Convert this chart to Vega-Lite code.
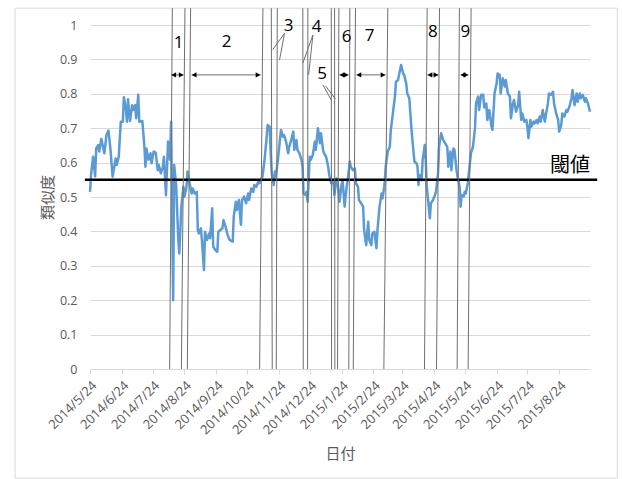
{
  "$schema": "https://vega.github.io/schema/vega-lite/v6.json",
  "width": 500,
  "height": 344,
  "autosize": "none",
  "padding": {"left": 90, "top": 25, "right": 32, "bottom": 110},
  "background": "white",
  "config": {"view": {"stroke": null}},
  "datasets": {
    "series": [
      {"date": "2014-05-24", "sim": 0.515}, {"date": "2014-05-25", "sim": 0.564}, {"date": "2014-05-27", "sim": 0.617},
      {"date": "2014-05-29", "sim": 0.56}, {"date": "2014-05-30", "sim": 0.641}, {"date": "2014-06-01", "sim": 0.651},
      {"date": "2014-06-02", "sim": 0.632}, {"date": "2014-06-04", "sim": 0.669}, {"date": "2014-06-06", "sim": 0.641},
      {"date": "2014-06-07", "sim": 0.627}, {"date": "2014-06-09", "sim": 0.68}, {"date": "2014-06-11", "sim": 0.693},
      {"date": "2014-06-13", "sim": 0.637}, {"date": "2014-06-15", "sim": 0.559}, {"date": "2014-06-18", "sim": 0.612},
      {"date": "2014-06-19", "sim": 0.593}, {"date": "2014-06-21", "sim": 0.617}, {"date": "2014-06-23", "sim": 0.719},
      {"date": "2014-06-25", "sim": 0.719}, {"date": "2014-06-26", "sim": 0.79}, {"date": "2014-06-28", "sim": 0.753},
      {"date": "2014-06-29", "sim": 0.719}, {"date": "2014-06-30", "sim": 0.784}, {"date": "2014-07-02", "sim": 0.721},
      {"date": "2014-07-04", "sim": 0.767}, {"date": "2014-07-05", "sim": 0.753}, {"date": "2014-07-07", "sim": 0.767},
      {"date": "2014-07-08", "sim": 0.729}, {"date": "2014-07-10", "sim": 0.797}, {"date": "2014-07-11", "sim": 0.719},
      {"date": "2014-07-14", "sim": 0.721}, {"date": "2014-07-16", "sim": 0.646}, {"date": "2014-07-17", "sim": 0.588},
      {"date": "2014-07-18", "sim": 0.641}, {"date": "2014-07-20", "sim": 0.608}, {"date": "2014-07-22", "sim": 0.627},
      {"date": "2014-07-23", "sim": 0.598}, {"date": "2014-07-25", "sim": 0.632}, {"date": "2014-07-27", "sim": 0.629},
      {"date": "2014-07-29", "sim": 0.578}, {"date": "2014-07-30", "sim": 0.593}, {"date": "2014-08-01", "sim": 0.569},
      {"date": "2014-08-03", "sim": 0.588}, {"date": "2014-08-04", "sim": 0.617}, {"date": "2014-08-06", "sim": 0.505},
      {"date": "2014-08-08", "sim": 0.661}, {"date": "2014-08-10", "sim": 0.608}, {"date": "2014-08-11", "sim": 0.719},
      {"date": "2014-08-12", "sim": 0.45}, {"date": "2014-08-13", "sim": 0.2}, {"date": "2014-08-14", "sim": 0.593},
      {"date": "2014-08-16", "sim": 0.53}, {"date": "2014-08-18", "sim": 0.375}, {"date": "2014-08-19", "sim": 0.336},
      {"date": "2014-08-21", "sim": 0.472}, {"date": "2014-08-23", "sim": 0.53}, {"date": "2014-08-24", "sim": 0.501},
      {"date": "2014-08-26", "sim": 0.53}, {"date": "2014-08-27", "sim": 0.574}, {"date": "2014-08-29", "sim": 0.54},
      {"date": "2014-08-31", "sim": 0.51}, {"date": "2014-09-01", "sim": 0.525}, {"date": "2014-09-03", "sim": 0.51},
      {"date": "2014-09-05", "sim": 0.515}, {"date": "2014-09-06", "sim": 0.404}, {"date": "2014-09-07", "sim": 0.394},
      {"date": "2014-09-09", "sim": 0.409}, {"date": "2014-09-10", "sim": 0.375}, {"date": "2014-09-12", "sim": 0.288},
      {"date": "2014-09-13", "sim": 0.399}, {"date": "2014-09-15", "sim": 0.375}, {"date": "2014-09-17", "sim": 0.394},
      {"date": "2014-09-18", "sim": 0.38}, {"date": "2014-09-20", "sim": 0.467}, {"date": "2014-09-21", "sim": 0.356},
      {"date": "2014-09-23", "sim": 0.346}, {"date": "2014-09-25", "sim": 0.341}, {"date": "2014-09-26", "sim": 0.399},
      {"date": "2014-09-28", "sim": 0.404}, {"date": "2014-09-30", "sim": 0.409}, {"date": "2014-10-01", "sim": 0.433},
      {"date": "2014-10-03", "sim": 0.414}, {"date": "2014-10-05", "sim": 0.39}, {"date": "2014-10-07", "sim": 0.375},
      {"date": "2014-10-10", "sim": 0.37}, {"date": "2014-10-11", "sim": 0.443}, {"date": "2014-10-13", "sim": 0.486},
      {"date": "2014-10-14", "sim": 0.462}, {"date": "2014-10-16", "sim": 0.491}, {"date": "2014-10-18", "sim": 0.419},
      {"date": "2014-10-19", "sim": 0.491}, {"date": "2014-10-21", "sim": 0.501}, {"date": "2014-10-23", "sim": 0.482},
      {"date": "2014-10-25", "sim": 0.51}, {"date": "2014-10-26", "sim": 0.491}, {"date": "2014-10-28", "sim": 0.525},
      {"date": "2014-10-30", "sim": 0.515}, {"date": "2014-10-31", "sim": 0.535}, {"date": "2014-11-02", "sim": 0.53},
      {"date": "2014-11-04", "sim": 0.545}, {"date": "2014-11-05", "sim": 0.54}, {"date": "2014-11-07", "sim": 0.554},
      {"date": "2014-11-08", "sim": 0.559}, {"date": "2014-11-10", "sim": 0.608}, {"date": "2014-11-12", "sim": 0.671},
      {"date": "2014-11-13", "sim": 0.709}, {"date": "2014-11-15", "sim": 0.705}, {"date": "2014-11-16", "sim": 0.627},
      {"date": "2014-11-17", "sim": 0.569}, {"date": "2014-11-19", "sim": 0.535}, {"date": "2014-11-20", "sim": 0.574},
      {"date": "2014-11-21", "sim": 0.559}, {"date": "2014-11-23", "sim": 0.608}, {"date": "2014-11-25", "sim": 0.666},
      {"date": "2014-11-26", "sim": 0.695}, {"date": "2014-11-28", "sim": 0.675}, {"date": "2014-11-29", "sim": 0.68},
      {"date": "2014-12-01", "sim": 0.661}, {"date": "2014-12-03", "sim": 0.627}, {"date": "2014-12-04", "sim": 0.646},
      {"date": "2014-12-06", "sim": 0.666}, {"date": "2014-12-08", "sim": 0.69}, {"date": "2014-12-09", "sim": 0.637},
      {"date": "2014-12-11", "sim": 0.666}, {"date": "2014-12-12", "sim": 0.637}, {"date": "2014-12-14", "sim": 0.627},
      {"date": "2014-12-16", "sim": 0.608}, {"date": "2014-12-17", "sim": 0.588}, {"date": "2014-12-18", "sim": 0.51},
      {"date": "2014-12-20", "sim": 0.506}, {"date": "2014-12-21", "sim": 0.515}, {"date": "2014-12-22", "sim": 0.486},
      {"date": "2014-12-24", "sim": 0.617}, {"date": "2014-12-25", "sim": 0.608}, {"date": "2014-12-27", "sim": 0.622},
      {"date": "2014-12-29", "sim": 0.661}, {"date": "2014-12-30", "sim": 0.637}, {"date": "2015-01-01", "sim": 0.7},
      {"date": "2015-01-03", "sim": 0.656}, {"date": "2015-01-04", "sim": 0.685}, {"date": "2015-01-06", "sim": 0.637},
      {"date": "2015-01-07", "sim": 0.627}, {"date": "2015-01-09", "sim": 0.617}, {"date": "2015-01-11", "sim": 0.588},
      {"date": "2015-01-12", "sim": 0.564}, {"date": "2015-01-14", "sim": 0.54}, {"date": "2015-01-16", "sim": 0.549},
      {"date": "2015-01-17", "sim": 0.506}, {"date": "2015-01-19", "sim": 0.554}, {"date": "2015-01-20", "sim": 0.549},
      {"date": "2015-01-22", "sim": 0.486}, {"date": "2015-01-24", "sim": 0.535}, {"date": "2015-01-25", "sim": 0.549},
      {"date": "2015-01-27", "sim": 0.472}, {"date": "2015-01-29", "sim": 0.53}, {"date": "2015-01-30", "sim": 0.549},
      {"date": "2015-02-01", "sim": 0.603}, {"date": "2015-02-02", "sim": 0.588}, {"date": "2015-02-04", "sim": 0.578},
      {"date": "2015-02-06", "sim": 0.583}, {"date": "2015-02-07", "sim": 0.54}, {"date": "2015-02-09", "sim": 0.53},
      {"date": "2015-02-10", "sim": 0.491}, {"date": "2015-02-12", "sim": 0.482}, {"date": "2015-02-14", "sim": 0.472},
      {"date": "2015-02-15", "sim": 0.404}, {"date": "2015-02-17", "sim": 0.36}, {"date": "2015-02-19", "sim": 0.428},
      {"date": "2015-02-20", "sim": 0.375}, {"date": "2015-02-22", "sim": 0.36}, {"date": "2015-02-23", "sim": 0.394},
      {"date": "2015-02-25", "sim": 0.399}, {"date": "2015-02-27", "sim": 0.351}, {"date": "2015-02-28", "sim": 0.404},
      {"date": "2015-03-02", "sim": 0.472}, {"date": "2015-03-04", "sim": 0.51}, {"date": "2015-03-05", "sim": 0.496},
      {"date": "2015-03-07", "sim": 0.54}, {"date": "2015-03-08", "sim": 0.588}, {"date": "2015-03-10", "sim": 0.632},
      {"date": "2015-03-12", "sim": 0.646}, {"date": "2015-03-13", "sim": 0.695}, {"date": "2015-03-15", "sim": 0.743},
      {"date": "2015-03-17", "sim": 0.792}, {"date": "2015-03-18", "sim": 0.835}, {"date": "2015-03-20", "sim": 0.84},
      {"date": "2015-03-21", "sim": 0.855}, {"date": "2015-03-23", "sim": 0.884}, {"date": "2015-03-25", "sim": 0.859},
      {"date": "2015-03-26", "sim": 0.855}, {"date": "2015-03-28", "sim": 0.83}, {"date": "2015-03-29", "sim": 0.801},
      {"date": "2015-03-31", "sim": 0.787}, {"date": "2015-04-02", "sim": 0.7}, {"date": "2015-04-03", "sim": 0.666},
      {"date": "2015-04-05", "sim": 0.603}, {"date": "2015-04-07", "sim": 0.598}, {"date": "2015-04-08", "sim": 0.588},
      {"date": "2015-04-09", "sim": 0.535}, {"date": "2015-04-10", "sim": 0.564}, {"date": "2015-04-12", "sim": 0.549},
      {"date": "2015-04-13", "sim": 0.608}, {"date": "2015-04-15", "sim": 0.651}, {"date": "2015-04-16", "sim": 0.608},
      {"date": "2015-04-17", "sim": 0.53}, {"date": "2015-04-18", "sim": 0.501}, {"date": "2015-04-20", "sim": 0.438},
      {"date": "2015-04-21", "sim": 0.482}, {"date": "2015-04-23", "sim": 0.491}, {"date": "2015-04-25", "sim": 0.506},
      {"date": "2015-04-26", "sim": 0.515}, {"date": "2015-04-28", "sim": 0.569}, {"date": "2015-04-29", "sim": 0.646},
      {"date": "2015-05-01", "sim": 0.685}, {"date": "2015-05-03", "sim": 0.666}, {"date": "2015-05-04", "sim": 0.661},
      {"date": "2015-05-06", "sim": 0.651}, {"date": "2015-05-07", "sim": 0.646}, {"date": "2015-05-08", "sim": 0.588},
      {"date": "2015-05-10", "sim": 0.632}, {"date": "2015-05-11", "sim": 0.578}, {"date": "2015-05-13", "sim": 0.641},
      {"date": "2015-05-14", "sim": 0.637}, {"date": "2015-05-16", "sim": 0.578}, {"date": "2015-05-17", "sim": 0.559},
      {"date": "2015-05-19", "sim": 0.53}, {"date": "2015-05-20", "sim": 0.472}, {"date": "2015-05-21", "sim": 0.506},
      {"date": "2015-05-23", "sim": 0.501}, {"date": "2015-05-24", "sim": 0.515}, {"date": "2015-05-25", "sim": 0.51},
      {"date": "2015-05-27", "sim": 0.54}, {"date": "2015-05-29", "sim": 0.598}, {"date": "2015-05-30", "sim": 0.627},
      {"date": "2015-06-01", "sim": 0.646}, {"date": "2015-06-03", "sim": 0.7}, {"date": "2015-06-04", "sim": 0.772},
      {"date": "2015-06-06", "sim": 0.792}, {"date": "2015-06-07", "sim": 0.753}, {"date": "2015-06-09", "sim": 0.797},
      {"date": "2015-06-11", "sim": 0.797}, {"date": "2015-06-12", "sim": 0.76}, {"date": "2015-06-14", "sim": 0.772},
      {"date": "2015-06-15", "sim": 0.724}, {"date": "2015-06-17", "sim": 0.753}, {"date": "2015-06-19", "sim": 0.705},
      {"date": "2015-06-20", "sim": 0.695}, {"date": "2015-06-22", "sim": 0.801}, {"date": "2015-06-24", "sim": 0.83},
      {"date": "2015-06-25", "sim": 0.859}, {"date": "2015-06-27", "sim": 0.855}, {"date": "2015-06-28", "sim": 0.801},
      {"date": "2015-06-30", "sim": 0.845}, {"date": "2015-07-02", "sim": 0.821}, {"date": "2015-07-03", "sim": 0.84},
      {"date": "2015-07-05", "sim": 0.801}, {"date": "2015-07-07", "sim": 0.792}, {"date": "2015-07-08", "sim": 0.729},
      {"date": "2015-07-10", "sim": 0.772}, {"date": "2015-07-11", "sim": 0.782}, {"date": "2015-07-13", "sim": 0.748},
      {"date": "2015-07-15", "sim": 0.767}, {"date": "2015-07-16", "sim": 0.806}, {"date": "2015-07-18", "sim": 0.724},
      {"date": "2015-07-19", "sim": 0.743}, {"date": "2015-07-21", "sim": 0.719}, {"date": "2015-07-23", "sim": 0.724},
      {"date": "2015-07-24", "sim": 0.705}, {"date": "2015-07-25", "sim": 0.671}, {"date": "2015-07-27", "sim": 0.724},
      {"date": "2015-07-28", "sim": 0.705}, {"date": "2015-07-30", "sim": 0.719}, {"date": "2015-07-31", "sim": 0.714},
      {"date": "2015-08-02", "sim": 0.724}, {"date": "2015-08-03", "sim": 0.714}, {"date": "2015-08-05", "sim": 0.734},
      {"date": "2015-08-06", "sim": 0.719}, {"date": "2015-08-08", "sim": 0.753}, {"date": "2015-08-10", "sim": 0.719},
      {"date": "2015-08-11", "sim": 0.738}, {"date": "2015-08-13", "sim": 0.772}, {"date": "2015-08-14", "sim": 0.801},
      {"date": "2015-08-16", "sim": 0.797}, {"date": "2015-08-18", "sim": 0.806}, {"date": "2015-08-19", "sim": 0.772},
      {"date": "2015-08-21", "sim": 0.743}, {"date": "2015-08-23", "sim": 0.724}, {"date": "2015-08-24", "sim": 0.69},
      {"date": "2015-08-26", "sim": 0.709}, {"date": "2015-08-27", "sim": 0.743}, {"date": "2015-08-29", "sim": 0.734},
      {"date": "2015-08-31", "sim": 0.753}, {"date": "2015-09-01", "sim": 0.748}, {"date": "2015-09-03", "sim": 0.763},
      {"date": "2015-09-05", "sim": 0.787}, {"date": "2015-09-06", "sim": 0.811}, {"date": "2015-09-08", "sim": 0.767},
      {"date": "2015-09-10", "sim": 0.801}, {"date": "2015-09-11", "sim": 0.777}, {"date": "2015-09-13", "sim": 0.801},
      {"date": "2015-09-14", "sim": 0.787}, {"date": "2015-09-16", "sim": 0.797}, {"date": "2015-09-18", "sim": 0.777},
      {"date": "2015-09-19", "sim": 0.787}, {"date": "2015-09-21", "sim": 0.772}, {"date": "2015-09-23", "sim": 0.748}
    ],
    "frame": [
      {"x": "2014-03-12", "x2": "2015-10-19T14:00:00Z", "y": 1.049, "y2": -0.317}
    ],
    "threshold": [
      {"x": "2014-05-19", "x2": "2015-09-30", "y": 0.55, "label": "閾値", "lx": "2015-09-23", "ly": 0.56}
    ],
    "strokes": [
      {"x": "2014-08-12T05:00:00Z", "x2": "2014-08-09T14:00:00Z", "y": 1.049, "y2": 0},
      {"x": "2014-08-24T12:00:00Z", "x2": "2014-08-21", "y": 1.049, "y2": 0},
      {"x": "2014-08-30", "x2": "2014-08-26T19:00:00Z", "y": 1.049, "y2": 0},
      {"x": "2014-11-08T10:00:00Z", "x2": "2014-11-05T05:00:00Z", "y": 1.049, "y2": 0},
      {"x": "2014-11-16T14:00:00Z", "x2": "2014-11-17T12:00:00Z", "y": 1.049, "y2": 0},
      {"x": "2014-11-22T10:00:00Z", "x2": "2014-11-21T10:00:00Z", "y": 1.049, "y2": 0},
      {"x": "2014-12-17T07:00:00Z", "x2": "2014-12-17T17:00:00Z", "y": 1.049, "y2": 0},
      {"x": "2014-12-22T05:00:00Z", "x2": "2014-12-21T22:00:00Z", "y": 1.049, "y2": 0},
      {"x": "2015-01-14", "x2": "2015-01-14T07:00:00Z", "y": 1.049, "y2": 0},
      {"x": "2015-01-17T05:00:00Z", "x2": "2015-01-17T12:00:00Z", "y": 1.049, "y2": 0},
      {"x": "2015-01-21T10:00:00Z", "x2": "2015-01-20T02:00:00Z", "y": 1.049, "y2": 0},
      {"x": "2015-02-01T02:00:00Z", "x2": "2015-01-31T02:00:00Z", "y": 1.049, "y2": 0},
      {"x": "2015-02-06T14:00:00Z", "x2": "2015-02-04T10:00:00Z", "y": 1.049, "y2": 0},
      {"x": "2015-03-10T02:00:00Z", "x2": "2015-03-06T05:00:00Z", "y": 1.049, "y2": 0},
      {"x": "2015-04-17T10:00:00Z", "x2": "2015-04-14T19:00:00Z", "y": 1.049, "y2": 0},
      {"x": "2015-04-29T10:00:00Z", "x2": "2015-04-26T12:00:00Z", "y": 1.049, "y2": 0},
      {"x": "2015-05-18T19:00:00Z", "x2": "2015-05-16T14:00:00Z", "y": 1.049, "y2": 0},
      {"x": "2015-05-30T05:00:00Z", "x2": "2015-05-27T07:00:00Z", "y": 1.049, "y2": 0},
      {"x": "2014-11-29T12:00:00Z", "x2": "2014-11-18T02:00:00Z", "y": 0.976, "y2": 0.929},
      {"x": "2014-11-29T12:00:00Z", "x2": "2014-11-24T14:00:00Z", "y": 0.976, "y2": 0.898},
      {"x": "2014-12-27T02:00:00Z", "x2": "2014-12-17T07:00:00Z", "y": 0.971, "y2": 0.889},
      {"x": "2014-12-27T02:00:00Z", "x2": "2014-12-22T22:00:00Z", "y": 0.971, "y2": 0.855},
      {"x": "2015-01-05T19:00:00Z", "x2": "2015-01-14", "y": 0.826, "y2": 0.782},
      {"x": "2015-01-08T10:00:00Z", "x2": "2015-01-18T02:00:00Z", "y": 0.823, "y2": 0.785},
      {"x": "2014-08-11T05:00:00Z", "x2": "2014-08-23T05:00:00Z", "y": 0.855, "y2": 0.855},
      {"x": "2014-08-31", "x2": "2014-11-06T02:00:00Z", "y": 0.855, "y2": 0.855},
      {"x": "2015-01-22", "x2": "2015-01-30T19:00:00Z", "y": 0.855, "y2": 0.855},
      {"x": "2015-02-07T12:00:00Z", "x2": "2015-03-07T19:00:00Z", "y": 0.855, "y2": 0.855},
      {"x": "2015-04-17T17:00:00Z", "x2": "2015-04-28T10:00:00Z", "y": 0.855, "y2": 0.855},
      {"x": "2015-05-19T22:00:00Z", "x2": "2015-05-27T14:00:00Z", "y": 0.855, "y2": 0.855}
    ],
    "heads": [
      {"x": "2014-08-13T14:00:00Z", "y": 0.855, "dir": "left"},
      {"x": "2014-08-20T19:00:00Z", "y": 0.855, "dir": "right"},
      {"x": "2014-09-02T10:00:00Z", "y": 0.855, "dir": "left"},
      {"x": "2014-11-03T17:00:00Z", "y": 0.855, "dir": "right"},
      {"x": "2015-01-24T10:00:00Z", "y": 0.855, "dir": "left"},
      {"x": "2015-01-28T10:00:00Z", "y": 0.855, "dir": "right"},
      {"x": "2015-02-09T22:00:00Z", "y": 0.855, "dir": "left"},
      {"x": "2015-03-05T10:00:00Z", "y": 0.855, "dir": "right"},
      {"x": "2015-04-20T02:00:00Z", "y": 0.855, "dir": "left"},
      {"x": "2015-04-26", "y": 0.855, "dir": "right"},
      {"x": "2015-05-22T07:00:00Z", "y": 0.855, "dir": "left"},
      {"x": "2015-05-25T05:00:00Z", "y": 0.855, "dir": "right"}
    ],
    "numbers": [
      {"x": "2014-08-18T07:00:00Z", "y": 0.948, "label": "1"},
      {"x": "2014-10-04T02:00:00Z", "y": 0.951, "label": "2"},
      {"x": "2014-12-03T10:00:00Z", "y": 0.997, "label": "3"},
      {"x": "2014-12-30T17:00:00Z", "y": 0.993, "label": "4"},
      {"x": "2015-01-05", "y": 0.859, "label": "5"},
      {"x": "2015-01-28T22:00:00Z", "y": 0.964, "label": "6"},
      {"x": "2015-02-20T07:00:00Z", "y": 0.968, "label": "7"},
      {"x": "2015-04-23", "y": 0.98, "label": "8"},
      {"x": "2015-05-24T17:00:00Z", "y": 0.98, "label": "9"}
    ]
  },
  "layer": [
    {
      "data": {"name": "frame"},
      "mark": {"type": "rect", "fill": null, "stroke": "#d9d9d9", "strokeWidth": 1, "clip": false},
      "encoding": {
        "x": {"field": "x", "type": "temporal"},
        "x2": {"field": "x2"},
        "y": {"field": "y", "type": "quantitative"},
        "y2": {"field": "y2"}
      }
    },
    {
      "data": {"name": "series"},
      "mark": {"type": "line", "color": "#5b9bd5", "strokeWidth": 2.5, "strokeJoin": "round"},
      "encoding": {
        "x": {
          "field": "date",
          "type": "temporal",
          "scale": {
            "type": "utc",
            "domain": [
              {"year": 2014, "month": 5, "date": 24, "utc": true},
              {"year": 2015, "month": 9, "date": 23, "utc": true}
            ]
          },
          "axis": {
            "values": [
              {"year": 2014, "month": 5, "date": 24, "utc": true},
              {"year": 2014, "month": 6, "date": 24, "utc": true},
              {"year": 2014, "month": 7, "date": 24, "utc": true},
              {"year": 2014, "month": 8, "date": 24, "utc": true},
              {"year": 2014, "month": 9, "date": 24, "utc": true},
              {"year": 2014, "month": 10, "date": 24, "utc": true},
              {"year": 2014, "month": 11, "date": 24, "utc": true},
              {"year": 2014, "month": 12, "date": 24, "utc": true},
              {"year": 2015, "month": 1, "date": 24, "utc": true},
              {"year": 2015, "month": 2, "date": 24, "utc": true},
              {"year": 2015, "month": 3, "date": 24, "utc": true},
              {"year": 2015, "month": 4, "date": 24, "utc": true},
              {"year": 2015, "month": 5, "date": 24, "utc": true},
              {"year": 2015, "month": 6, "date": 24, "utc": true},
              {"year": 2015, "month": 7, "date": 24, "utc": true},
              {"year": 2015, "month": 8, "date": 24, "utc": true}
            ],
            "tickCount": 40,
            "format": "%Y/%-m/%-d",
            "labelAngle": -45,
            "labelFont": "Open Sans",
            "labelFontSize": 13,
            "labelColor": "#595959",
            "labelPadding": 5,
            "labelOverlap": false,
            "grid": false,
            "domainColor": "#d9d9d9",
            "tickColor": "#d9d9d9",
            "tickSize": 5,
            "title": "日付",
            "titleFont": "Noto Sans CJK JP",
            "titleFontSize": 15,
            "titleFontWeight": "normal",
            "titleColor": "#595959",
            "titleX": 250,
            "titleY": 84,
            "titleBaseline": "middle"
          }
        },
        "y": {
          "field": "sim",
          "type": "quantitative",
          "scale": {"domain": [0, 1], "nice": false},
          "axis": {
            "values": [0, 0.1, 0.2, 0.3, 0.4, 0.5, 0.6, 0.7, 0.8, 0.9, 1],
            "tickCount": 40,
            "format": ".1~f",
            "labelFont": "Open Sans",
            "labelFontSize": 12.5,
            "labelColor": "#595959",
            "labelPadding": 13,
            "labelOverlap": false,
            "domain": false,
            "ticks": false,
            "gridColor": "#d9d9d9",
            "title": "類似度",
            "titleFont": "Noto Sans CJK JP",
            "titleFontSize": 15,
            "titleFontWeight": "normal",
            "titleColor": "#595959",
            "titleAngle": -90,
            "titleX": -43,
            "titleY": 172,
            "titleAlign": "center",
            "titleBaseline": "middle"
          }
        }
      }
    },
    {
      "data": {"name": "threshold"},
      "mark": {"type": "rule", "color": "black", "strokeWidth": 2.5, "clip": false},
      "encoding": {
        "x": {"field": "x", "type": "temporal"},
        "x2": {"field": "x2"},
        "y": {"field": "y", "type": "quantitative"}
      }
    },
    {
      "data": {"name": "threshold"},
      "mark": {"type": "text", "align": "right", "baseline": "bottom", "font": "Noto Sans CJK JP", "fontSize": 20, "color": "black"},
      "encoding": {
        "x": {"field": "lx", "type": "temporal"},
        "y": {"field": "ly", "type": "quantitative"},
        "text": {"field": "label"}
      }
    },
    {
      "data": {"name": "strokes"},
      "mark": {"type": "rule", "color": "#6f6f6f", "strokeWidth": 1, "clip": false},
      "encoding": {
        "x": {"field": "x", "type": "temporal"},
        "x2": {"field": "x2"},
        "y": {"field": "y", "type": "quantitative"},
        "y2": {"field": "y2"}
      }
    },
    {
      "data": {"name": "heads"},
      "mark": {"type": "point", "filled": true, "color": "black", "size": 30, "opacity": 1, "clip": false},
      "encoding": {
        "x": {"field": "x", "type": "temporal"},
        "y": {"field": "y", "type": "quantitative"},
        "shape": {
          "field": "dir",
          "type": "nominal",
          "scale": {"domain": ["left", "right"], "range": ["triangle-left", "triangle-right"]},
          "legend": null
        }
      }
    },
    {
      "data": {"name": "numbers"},
      "mark": {"type": "text", "align": "center", "baseline": "middle", "font": "Open Sans", "fontSize": 17, "color": "black", "clip": false},
      "encoding": {
        "x": {"field": "x", "type": "temporal"},
        "y": {"field": "y", "type": "quantitative"},
        "text": {"field": "label"}
      }
    }
  ]
}
